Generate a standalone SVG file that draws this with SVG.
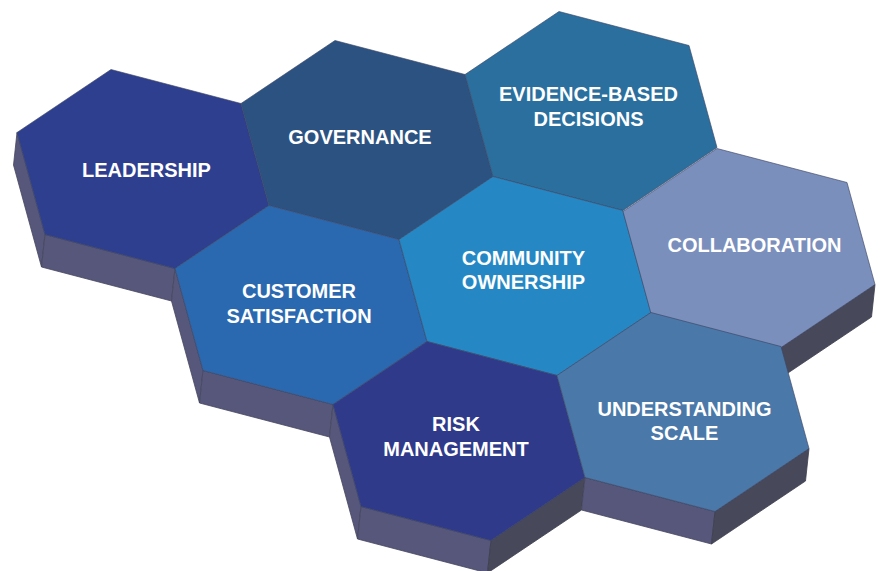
<svg xmlns="http://www.w3.org/2000/svg" xmlns:xlink="http://www.w3.org/1999/xlink" width="881" height="571" viewBox="0 0 881 571">
<style>
.face{stroke:#3c4564;stroke-width:0.8;stroke-opacity:0.8}
.sideL{fill:#56577a;stroke:#45465e;stroke-width:0.8}
.sideR{fill:#47485a;stroke:#3c3d4e;stroke-width:0.8}
.lbl{font-family:"Liberation Sans",Arial,sans-serif;font-weight:bold;font-size:20px;fill:#ffffff;text-anchor:middle}
</style>
<defs>
<polygon id="hex" points="-32,-99.5 98,-65.5 126,36.5 32,99.5 -98,65.5 -126,-36.5"/>
<polygon id="fL" points="-126,-36.5 -98,65.5 -101.5,98 -129.5,-4"/>
<polygon id="fB" points="-98,65.5 32,99.5 28.5,132 -101.5,98"/>
<polygon id="fR" points="32,99.5 126,36.5 122.5,69 28.5,132"/>
</defs>
<g id="extrusions">
<use xlink:href="#fL" class="sideL" transform="translate(143,169)"/>
<use xlink:href="#fB" class="sideL" transform="translate(143,169)"/>
<use xlink:href="#fL" class="sideL" transform="translate(301,305)"/>
<use xlink:href="#fB" class="sideL" transform="translate(301,305)"/>
<use xlink:href="#fL" class="sideL" transform="translate(459,441)"/>
<use xlink:href="#fB" class="sideL" transform="translate(459,441)"/>
<use xlink:href="#fR" class="sideR" transform="translate(459,441)"/>
<use xlink:href="#fB" class="sideL" transform="translate(683,412)"/>
<use xlink:href="#fR" class="sideR" transform="translate(683,412)"/>
<use xlink:href="#fR" class="sideR" transform="translate(749,248)"/>
</g>
<g id="leadership">
<use xlink:href="#hex" class="face" fill="#2f3f8f" transform="translate(143,169)"/>
<text class="lbl" x="146.5" y="176.5">LEADERSHIP</text>
</g>
<g id="governance">
<use xlink:href="#hex" class="face" fill="#2c5282" transform="translate(367,140)"/>
<text class="lbl" x="360" y="144">GOVERNANCE</text>
</g>
<g id="evidence">
<use xlink:href="#hex" class="face" fill="#2a6f9e" transform="translate(591,111)"/>
<text class="lbl" x="588.5" y="100.5">EVIDENCE-BASED</text>
<text class="lbl" x="588.5" y="126">DECISIONS</text>
</g>
<g id="customer">
<use xlink:href="#hex" class="face" fill="#2a69b0" transform="translate(301,305)"/>
<text class="lbl" x="299" y="298">CUSTOMER</text>
<text class="lbl" x="299" y="323">SATISFACTION</text>
</g>
<g id="community">
<use xlink:href="#hex" class="face" fill="#2588c4" transform="translate(525,276)"/>
<text class="lbl" x="523.5" y="265">COMMUNITY</text>
<text class="lbl" x="523.5" y="289">OWNERSHIP</text>
</g>
<g id="collaboration">
<use xlink:href="#hex" class="face" fill="#7b8fbc" transform="translate(749,248)"/>
<text class="lbl" x="754.5" y="251.5">COLLABORATION</text>
</g>
<g id="risk">
<use xlink:href="#hex" class="face" fill="#2f3a8b" transform="translate(459,441)"/>
<text class="lbl" x="456" y="431">RISK</text>
<text class="lbl" x="456" y="456">MANAGEMENT</text>
</g>
<g id="understanding">
<use xlink:href="#hex" class="face" fill="#4a78a8" transform="translate(683,412)"/>
<text class="lbl" x="684.5" y="416">UNDERSTANDING</text>
<text class="lbl" x="684.5" y="439.5">SCALE</text>
</g>
</svg>
